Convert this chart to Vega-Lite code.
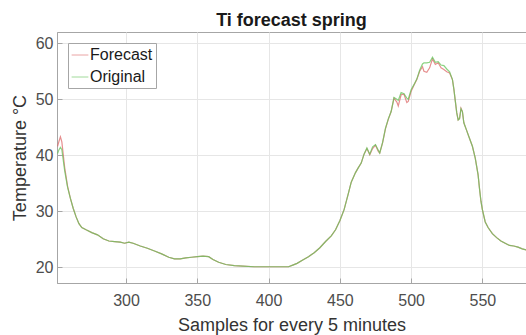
{
  "$schema": "https://vega.github.io/schema/vega-lite/v6.json",
  "autosize": "none",
  "width": 469,
  "height": 251,
  "padding": {"left": 57, "top": 32, "right": 0, "bottom": 52},
  "background": "white",
  "title": {"text": "Ti forecast spring", "fontSize": 18, "fontWeight": "bold", "font": "Liberation Sans", "color": "#1a1a1a", "baseline": "bottom", "offset": 1, "dy": 17, "anchor": "middle", "frame": "group"},
  "config": {
    "font": "Liberation Sans",
    "view": {"stroke": "#a6a6a6", "strokeWidth": 1},
    "axis": {"gridColor": "#e6e6e6", "gridWidth": 1, "domainColor": "#a6a6a6", "tickColor": "#a6a6a6", "labelColor": "#4d4d4d", "titleColor": "#333333", "labelFontSize": 16, "titleFontSize": 18, "titleFontWeight": "normal", "labelFont": "Liberation Sans", "titleFont": "Liberation Sans"}
  },
  "data": {"values": [
    {"x": 252, "Forecast": 41.6, "Original": 40.3},
    {"x": 253, "Forecast": 42.5, "Original": 41.0},
    {"x": 254, "Forecast": 43.3, "Original": 41.4},
    {"x": 255, "Forecast": 42.4, "Original": 41.0},
    {"x": 257, "Forecast": 37.8, "Original": 37.2},
    {"x": 259, "Forecast": 34.5, "Original": 34.3},
    {"x": 261, "Forecast": 32.3, "Original": 32.3},
    {"x": 263, "Forecast": 30.5, "Original": 30.5},
    {"x": 265, "Forecast": 29.0, "Original": 29.0},
    {"x": 267, "Forecast": 27.8, "Original": 27.8},
    {"x": 269, "Forecast": 27.1, "Original": 27.1},
    {"x": 272, "Forecast": 26.7, "Original": 26.7},
    {"x": 276, "Forecast": 26.2, "Original": 26.2},
    {"x": 280, "Forecast": 25.8, "Original": 25.8},
    {"x": 284, "Forecast": 25.1, "Original": 25.1},
    {"x": 288, "Forecast": 24.7, "Original": 24.7},
    {"x": 292, "Forecast": 24.6, "Original": 24.6},
    {"x": 296, "Forecast": 24.5, "Original": 24.5},
    {"x": 299, "Forecast": 24.3, "Original": 24.3},
    {"x": 302, "Forecast": 24.5, "Original": 24.5},
    {"x": 305, "Forecast": 24.3, "Original": 24.3},
    {"x": 310, "Forecast": 23.8, "Original": 23.8},
    {"x": 315, "Forecast": 23.4, "Original": 23.4},
    {"x": 320, "Forecast": 22.9, "Original": 22.9},
    {"x": 325, "Forecast": 22.4, "Original": 22.4},
    {"x": 330, "Forecast": 21.8, "Original": 21.8},
    {"x": 334, "Forecast": 21.5, "Original": 21.5},
    {"x": 338, "Forecast": 21.5, "Original": 21.5},
    {"x": 342, "Forecast": 21.7, "Original": 21.7},
    {"x": 346, "Forecast": 21.8, "Original": 21.8},
    {"x": 350, "Forecast": 21.9, "Original": 21.9},
    {"x": 354, "Forecast": 22.0, "Original": 22.0},
    {"x": 358, "Forecast": 21.9, "Original": 21.9},
    {"x": 361, "Forecast": 21.4, "Original": 21.4},
    {"x": 365, "Forecast": 20.9, "Original": 20.9},
    {"x": 370, "Forecast": 20.5, "Original": 20.5},
    {"x": 376, "Forecast": 20.3, "Original": 20.3},
    {"x": 382, "Forecast": 20.2, "Original": 20.2},
    {"x": 390, "Forecast": 20.1, "Original": 20.1},
    {"x": 398, "Forecast": 20.1, "Original": 20.1},
    {"x": 404, "Forecast": 20.1, "Original": 20.1},
    {"x": 410, "Forecast": 20.1, "Original": 20.1},
    {"x": 414, "Forecast": 20.1, "Original": 20.1},
    {"x": 417, "Forecast": 20.4, "Original": 20.4},
    {"x": 420, "Forecast": 20.7, "Original": 20.7},
    {"x": 424, "Forecast": 21.3, "Original": 21.3},
    {"x": 428, "Forecast": 21.9, "Original": 21.9},
    {"x": 432, "Forecast": 22.6, "Original": 22.6},
    {"x": 436, "Forecast": 23.5, "Original": 23.5},
    {"x": 440, "Forecast": 24.6, "Original": 24.6},
    {"x": 444, "Forecast": 25.6, "Original": 25.6},
    {"x": 447, "Forecast": 26.7, "Original": 26.7},
    {"x": 450, "Forecast": 28.3, "Original": 28.3},
    {"x": 453, "Forecast": 30.3, "Original": 30.3},
    {"x": 456, "Forecast": 33.2, "Original": 33.2},
    {"x": 458, "Forecast": 35.2, "Original": 35.2},
    {"x": 461, "Forecast": 36.9, "Original": 36.9},
    {"x": 463, "Forecast": 37.8, "Original": 37.8},
    {"x": 465, "Forecast": 38.6, "Original": 38.6},
    {"x": 467, "Forecast": 40.2, "Original": 40.2},
    {"x": 469, "Forecast": 41.2, "Original": 41.3},
    {"x": 471, "Forecast": 40.1, "Original": 40.2},
    {"x": 473, "Forecast": 41.2, "Original": 41.5},
    {"x": 475, "Forecast": 41.8, "Original": 41.9},
    {"x": 477, "Forecast": 40.7, "Original": 40.9},
    {"x": 478, "Forecast": 40.4, "Original": 40.4},
    {"x": 480, "Forecast": 42.2, "Original": 42.3},
    {"x": 482, "Forecast": 44.7, "Original": 44.8},
    {"x": 484, "Forecast": 46.4, "Original": 46.5},
    {"x": 486, "Forecast": 47.8, "Original": 47.8},
    {"x": 488, "Forecast": 50.2, "Original": 50.3},
    {"x": 490, "Forecast": 49.5, "Original": 50.0},
    {"x": 491, "Forecast": 48.8, "Original": 49.8},
    {"x": 493, "Forecast": 50.8, "Original": 51.2},
    {"x": 495, "Forecast": 50.9, "Original": 51.0},
    {"x": 497, "Forecast": 49.4, "Original": 50.2},
    {"x": 498, "Forecast": 49.6, "Original": 50.0},
    {"x": 500, "Forecast": 51.4, "Original": 51.7},
    {"x": 502, "Forecast": 52.5, "Original": 52.6},
    {"x": 504, "Forecast": 53.5, "Original": 53.6},
    {"x": 506, "Forecast": 55.0, "Original": 55.2},
    {"x": 508, "Forecast": 55.8, "Original": 56.3},
    {"x": 509, "Forecast": 55.0, "Original": 56.5},
    {"x": 511, "Forecast": 54.8, "Original": 56.5},
    {"x": 513, "Forecast": 55.6, "Original": 56.6},
    {"x": 515, "Forecast": 57.2, "Original": 57.5},
    {"x": 517, "Forecast": 56.2, "Original": 56.6},
    {"x": 519, "Forecast": 56.5, "Original": 56.7},
    {"x": 521, "Forecast": 55.6, "Original": 56.1},
    {"x": 523, "Forecast": 55.3, "Original": 56.0},
    {"x": 525, "Forecast": 54.9, "Original": 55.4},
    {"x": 527, "Forecast": 54.7, "Original": 54.9},
    {"x": 529, "Forecast": 53.5, "Original": 53.5},
    {"x": 530, "Forecast": 51.8, "Original": 51.8},
    {"x": 531, "Forecast": 49.7, "Original": 49.7},
    {"x": 532, "Forecast": 47.6, "Original": 47.6},
    {"x": 533, "Forecast": 46.3, "Original": 46.3},
    {"x": 534, "Forecast": 46.6, "Original": 46.5},
    {"x": 535, "Forecast": 48.4, "Original": 48.3},
    {"x": 536, "Forecast": 47.8, "Original": 47.8},
    {"x": 537, "Forecast": 45.8, "Original": 45.8},
    {"x": 539, "Forecast": 44.4, "Original": 44.4},
    {"x": 541, "Forecast": 43.0, "Original": 43.0},
    {"x": 543, "Forecast": 41.6, "Original": 41.6},
    {"x": 545, "Forecast": 39.5, "Original": 39.5},
    {"x": 547, "Forecast": 36.5, "Original": 36.5},
    {"x": 548, "Forecast": 34.0, "Original": 34.0},
    {"x": 549, "Forecast": 31.8, "Original": 31.8},
    {"x": 550, "Forecast": 30.3, "Original": 30.3},
    {"x": 552, "Forecast": 28.1, "Original": 28.1},
    {"x": 554, "Forecast": 27.1, "Original": 27.1},
    {"x": 557, "Forecast": 26.0, "Original": 26.0},
    {"x": 560, "Forecast": 25.3, "Original": 25.3},
    {"x": 563, "Forecast": 24.7, "Original": 24.7},
    {"x": 566, "Forecast": 24.3, "Original": 24.3},
    {"x": 569, "Forecast": 23.9, "Original": 23.9},
    {"x": 572, "Forecast": 23.8, "Original": 23.8},
    {"x": 575, "Forecast": 23.6, "Original": 23.6},
    {"x": 578, "Forecast": 23.3, "Original": 23.3},
    {"x": 581, "Forecast": 23.1, "Original": 23.1}
  ]},
  "transform": [{"fold": ["Forecast", "Original"], "as": ["series", "temp"]}],
  "mark": {"type": "line", "strokeWidth": 1.2, "opacity": 0.75, "clip": true},
  "encoding": {
    "x": {"field": "x", "type": "quantitative", "scale": {"domain": [251.6, 580.6], "nice": false, "zero": false},
      "axis": {"values": [300, 350, 400, 450, 500, 550], "title": "Samples for every 5 minutes", "tickSize": -5, "labelPadding": 14, "titlePadding": 8, "grid": true}},
    "y": {"field": "temp", "type": "quantitative", "scale": {"domain": [17.2, 62], "nice": false, "zero": false},
      "axis": {"values": [20, 30, 40, 50, 60], "title": "Temperature °C", "tickSize": -5, "labelPadding": 9, "titlePadding": 6, "grid": true}},
    "color": {"field": "series", "type": "nominal", "scale": {"domain": ["Forecast", "Original"], "range": ["#de6a6a", "#64c458"]},
      "legend": {"title": null, "orient": "none", "legendX": 11, "legendY": 11, "direction": "vertical", "strokeColor": "#a6a6a6", "fillColor": "white", "padding": 3, "cornerRadius": 0, "symbolType": "stroke", "symbolSize": 280, "symbolStrokeWidth": 1, "symbolOpacity": 0.6, "labelFontSize": 16, "labelColor": "#1a1a1a", "labelOffset": 1, "rowPadding": 5}}
  }
}
